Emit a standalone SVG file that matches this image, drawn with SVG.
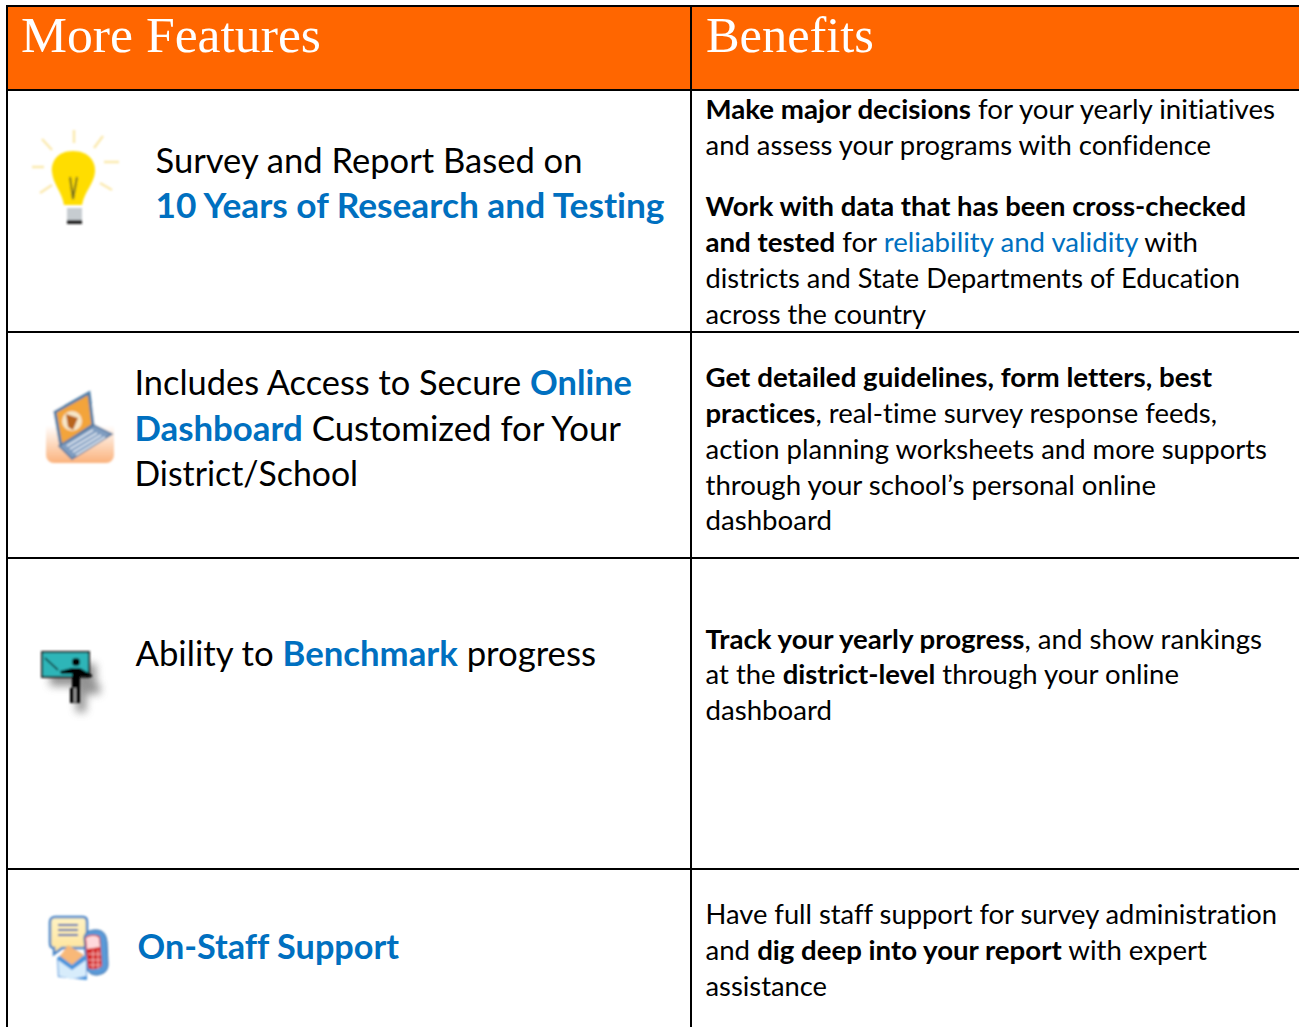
<svg xmlns="http://www.w3.org/2000/svg" width="1299" height="1027" viewBox="0 0 1299 1027">
<defs>
<style>
text{font-family:"Lato","Carlito","Liberation Sans",sans-serif;fill:#000;white-space:pre;font-variant-ligatures:none;font-kerning:normal}
.h{font-family:"Liberation Serif",serif;font-size:51px;fill:#fff}
.f{font-size:35px}
.b{font-size:27px}
.bl{font-weight:700;fill:#0070c0}
.bb{font-weight:700}
.lk{fill:#0070c0}
.ln{stroke:#000;stroke-width:2;fill:none}
</style>
<filter id="blur1" x="-20%" y="-20%" width="140%" height="140%"><feGaussianBlur stdDeviation="0.9"/></filter>
<filter id="blur4" x="-50%" y="-50%" width="200%" height="200%"><feGaussianBlur stdDeviation="4"/></filter>
<linearGradient id="lapbg" x1="0" y1="0" x2="0" y2="1"><stop offset="0.35" stop-color="#fff"/><stop offset="1" stop-color="#fbb27c"/></linearGradient>
<linearGradient id="bub" x1="0" y1="0" x2="0" y2="1"><stop offset="0" stop-color="#fff3c4"/><stop offset="1" stop-color="#ffe39a"/></linearGradient>
</defs>
<rect width="1299" height="1027" fill="#fff"/>
<rect x="7" y="6" width="1292" height="84" fill="#ff6600"/>
<g id="grid">
<path class="ln" d="M7 6H1299M7 90H1299M7 332H1299M7 558H1299M7 869H1299M7 5V1027M691 5V1027"/>
</g>
<g id="header-features"><text class="h" x="21" y="52" textLength="300" lengthAdjust="spacingAndGlyphs">More Features</text></g>
<g id="header-benefits"><text class="h" x="706" y="52" textLength="168" lengthAdjust="spacingAndGlyphs">Benefits</text></g>

<g id="feature-research">
<g filter="url(#blur1)">
<path d="M74 130V143M103 136L94 148M104 162H119M100 183L112 190M40 193L52 185M32 167H44M42 139L52 150" stroke="#fbe9ad" stroke-width="2.5" fill="none"/>
<path d="M73 151C89 151 96 162 95 172C94 184 85 190 82 205H64C62 192 53 184 52 172C51 162 57 151 73 151Z" fill="#ffdd00"/>
<path d="M70 177L73 199L77 177" stroke="#77701a" stroke-width="2" fill="none"/>
<rect x="67" y="208" width="15" height="12" fill="#c6ccd0"/>
<rect x="67" y="220" width="15" height="4" fill="#222"/>
</g>
<text class="f" x="155.500" y="172.500" textLength="427" lengthAdjust="spacingAndGlyphs">Survey and Report Based on</text>
<text class="f bl" x="155.500" y="217.500" textLength="509" lengthAdjust="spacingAndGlyphs">10 Years of Research and Testing</text>
</g>
<g id="benefit-research">
<text class="b" x="705.500" y="118.500" textLength="569.500" lengthAdjust="spacingAndGlyphs"><tspan class="bb">Make major decisions</tspan> for your yearly initiatives</text>
<text class="b" x="705.500" y="154.500" textLength="505.500" lengthAdjust="spacingAndGlyphs">and assess your programs with confidence</text>
<text class="b bb" x="705.500" y="215.500" textLength="540.500" lengthAdjust="spacingAndGlyphs">Work with data that has been cross-checked</text>
<text class="b" x="705.500" y="251.500" textLength="492.500" lengthAdjust="spacingAndGlyphs"><tspan class="bb">and tested</tspan> for <tspan class="lk">reliability and validity</tspan> with</text>
<text class="b" x="705.500" y="287.500" textLength="534.500" lengthAdjust="spacingAndGlyphs">districts and State Departments of Education</text>
<text class="b" x="705.500" y="323.500" textLength="220.500" lengthAdjust="spacingAndGlyphs">across the country</text>
</g>

<g id="feature-dashboard">
<g filter="url(#blur1)">
<rect x="46" y="405" width="68" height="58" rx="8" fill="url(#lapbg)"/>
<path d="M55 412L89 393L93 425L61 446Z" fill="#f3a43a" stroke="#4f7ea8" stroke-width="3"/>
<circle cx="72" cy="421" r="10" fill="#f7e6c8"/>
<path d="M66 414L78 418L73 430L68 427Z" fill="#b8641a"/>
<path d="M59 446L94 425L112 434L72 459Z" fill="#7f9cc0" stroke="#56789e" stroke-width="1.500"/>
<path d="M67 446L93 430M70 449L97 433M73 452L101 435M76 455L105 437" stroke="#dfe8f2" stroke-width="1.800"/>
</g>
<text class="f" x="134.500" y="394.500" textLength="497.500" lengthAdjust="spacingAndGlyphs">Includes Access to Secure <tspan class="bl">Online</tspan></text>
<text class="f" x="134.500" y="440.500" textLength="486.500" lengthAdjust="spacingAndGlyphs"><tspan class="bl">Dashboard</tspan> Customized for Your</text>
<text class="f" x="134.500" y="485.500" textLength="223.500" lengthAdjust="spacingAndGlyphs">District/School</text>
</g>
<g id="benefit-dashboard">
<text class="b bb" x="705.500" y="386.500" textLength="506.500" lengthAdjust="spacingAndGlyphs">Get detailed guidelines, form letters, best</text>
<text class="b" x="705.500" y="422.500" textLength="511.500" lengthAdjust="spacingAndGlyphs"><tspan class="bb">practices</tspan>, real-time survey response feeds,</text>
<text class="b" x="705.500" y="458.500" textLength="561.500" lengthAdjust="spacingAndGlyphs">action planning worksheets and more supports</text>
<text class="b" x="705.500" y="494.500" textLength="450.500" lengthAdjust="spacingAndGlyphs">through your school’s personal online</text>
<text class="b" x="705.500" y="529.500" textLength="126.500" lengthAdjust="spacingAndGlyphs">dashboard</text>
</g>

<g id="feature-benchmark">
<path d="M50 664H96V684H100V694H86V712H76V686H50Z" fill="#666" filter="url(#blur4)" opacity="0.7"/>
<g filter="url(#blur1)">
<rect x="42" y="652" width="47" height="25" fill="#2db5b8" stroke="#222" stroke-width="2"/>
<path d="M45 658L58 670" stroke="#111" stroke-width="1.500"/>
<circle cx="76" cy="662" r="4" fill="#000"/>
<path d="M60 671L72 668H80L92 675V677L80 676V703H70V688H72V674L61 674Z" fill="#000"/>
<path d="M75 688V702" stroke="#ddd" stroke-width="1.500"/>
</g>
<text class="f" x="135.500" y="665.500" textLength="460.500" lengthAdjust="spacingAndGlyphs">Ability to <tspan class="bl">Benchmark</tspan> progress</text>
</g>
<g id="benefit-benchmark">
<text class="b" x="705.500" y="648.500" textLength="556.500" lengthAdjust="spacingAndGlyphs"><tspan class="bb">Track your yearly progress</tspan>, and show rankings</text>
<text class="b" x="705.500" y="683.500" textLength="473.500" lengthAdjust="spacingAndGlyphs">at the <tspan class="bb">district-level</tspan> through your online</text>
<text class="b" x="705.500" y="719.500" textLength="126.500" lengthAdjust="spacingAndGlyphs">dashboard</text>
</g>

<g id="feature-support">
<g filter="url(#blur1)">
<path d="M55 917H83C86 917 87 919 87 922V943C87 946 86 948 83 948H62L54 954V948C51 948 50 946 50 943V922C50 919 52 917 55 917Z" fill="url(#bub)" stroke="#4a86c8" stroke-width="2.500"/>
<path d="M58 925H78M58 930H78M58 935H78" stroke="#2a64b4" stroke-width="2.200"/>
<path d="M84 938C84 932 90 930 96 930C103 930 106 934 107 942L108 964C108 971 104 974 97 975C91 975 87 972 86 966Z" fill="#5a9ad8" stroke="#2a64a4" stroke-width="1"/>
<path d="M85 938C88 934 97 934 100 937L102 966C97 970 92 970 88 968Z" fill="#d42020"/>
<path d="M86 938C90 935 97 935 99 938L100 947L87 949Z" fill="#ffd9dc"/>
<path d="M88 954H101M88 960H101M89 965H101M93 950V969M98 950V969" stroke="#f7c8c8" stroke-width="1"/>
<path d="M57 958L72 947L87 958V980L58 977Z" fill="#4a94dc"/>
<path d="M58 960L72 970L86 960V976L72 979L59 976Z" fill="#d7ecfb"/>
<path d="M60 956L68 945L84 955L72 965Z" fill="#f8b878"/>
</g>
<text class="f bl" x="137.500" y="958.500" textLength="261.500" lengthAdjust="spacingAndGlyphs">On-Staff Support</text>
</g>
<g id="benefit-support">
<text class="b" x="705.500" y="923.500" textLength="571.500" lengthAdjust="spacingAndGlyphs">Have full staff support for survey administration</text>
<text class="b" x="705.500" y="959.500" textLength="501.500" lengthAdjust="spacingAndGlyphs">and <tspan class="bb">dig deep into your report</tspan> with expert</text>
<text class="b" x="705.500" y="995.500" textLength="121.500" lengthAdjust="spacingAndGlyphs">assistance</text>
</g>
</svg>
